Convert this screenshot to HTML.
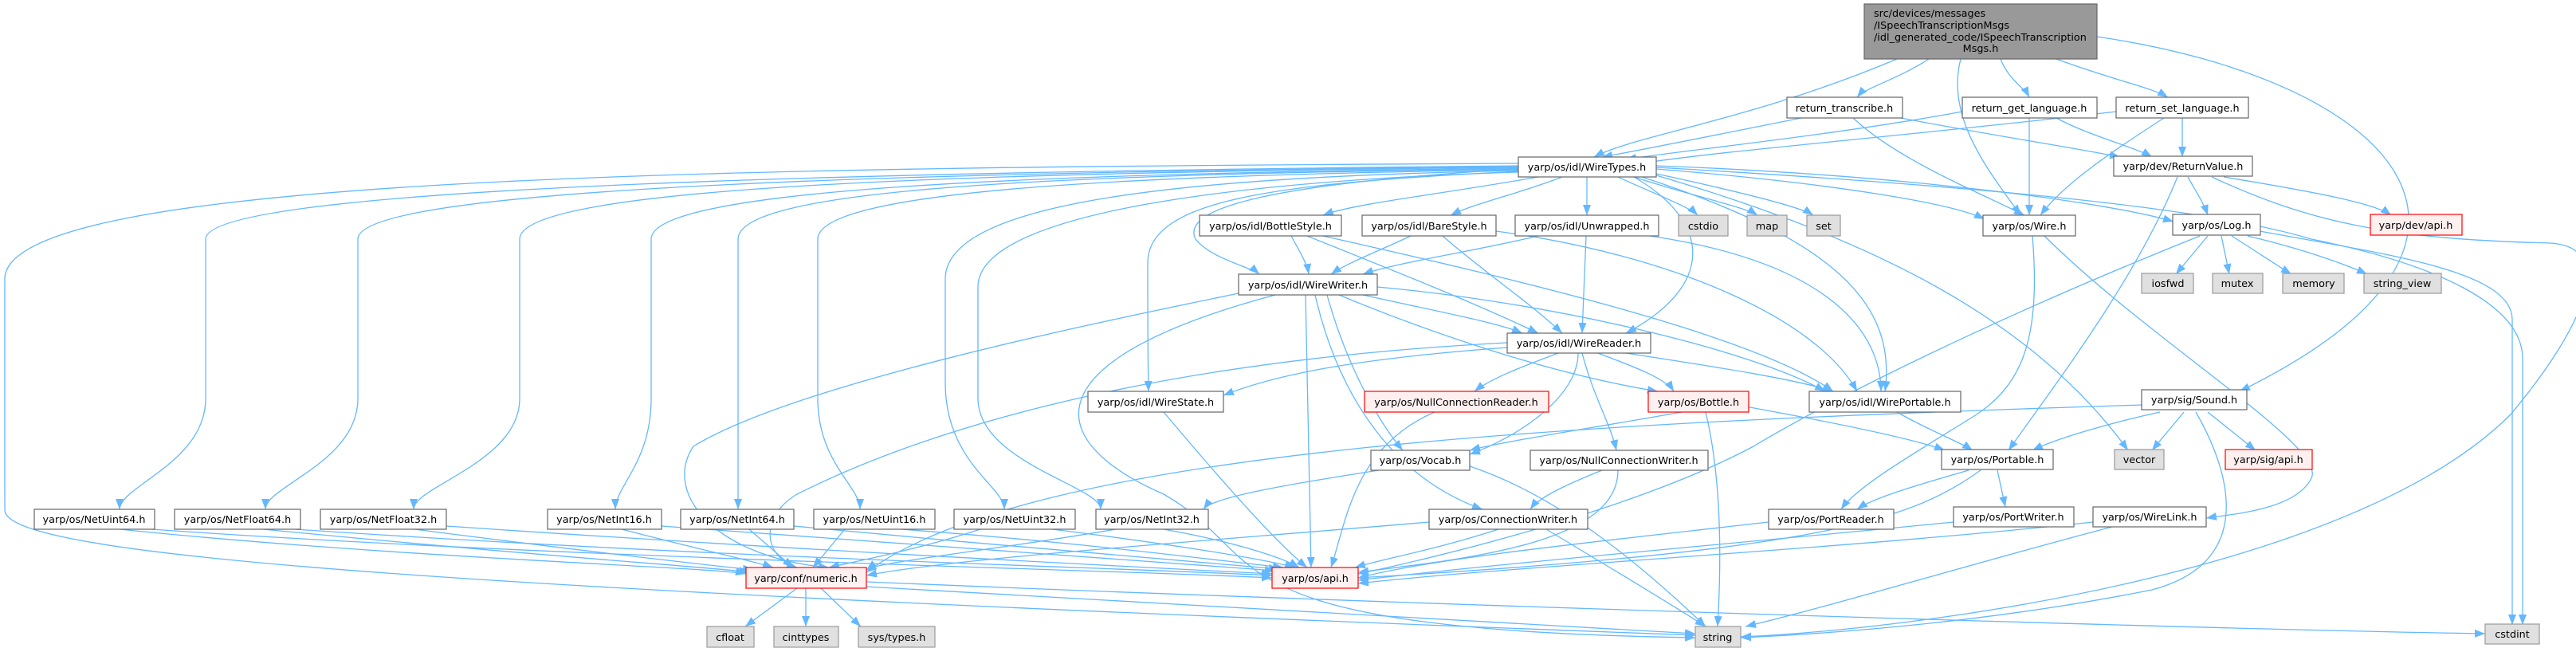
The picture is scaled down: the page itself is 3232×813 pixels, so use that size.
<!DOCTYPE html>
<html><head><meta charset="utf-8"><style>
html,body{margin:0;padding:0;background:#fff;width:3232px;height:813px;overflow:hidden}
svg text{font-family:"DejaVu Sans","Liberation Sans",sans-serif;font-size:12.8px;fill:#000}
.e{fill:none;stroke:#63b8ff;stroke-width:1.3;marker-end:url(#a)}
.n{fill:#fff;stroke:#666;stroke-width:1.2}
.r{fill:#fff0f0;stroke:#f00;stroke-width:1.2}
.g{fill:#e0e0e0;stroke:#999;stroke-width:1.2}
</style></head><body>
<svg width="3232" height="813" viewBox="0 0 3232 813" xmlns="http://www.w3.org/2000/svg">
<defs><marker id="a" markerWidth="14" markerHeight="11" refX="13" refY="5" orient="auto" markerUnits="userSpaceOnUse"><path d="M0,0 L13,5 L0,10 z" fill="#63b8ff"/></marker></defs>
<g>
<path class="e" d="M2380 74 C2200 150,2050 170,2000 197"/>
<path class="e" d="M2420 74 C2380 100,2340 110,2330 122"/>
<path class="e" d="M2510 74 C2520 100,2540 110,2546 122"/>
<path class="e" d="M2580 74 C2650 100,2700 110,2720 122"/>
<path class="e" d="M2460 74 C2440 150,2500 220,2535 270"/>
<path class="e" d="M2631 46 C3000 100,3200 300,2810 491"/>
<path class="e" d="M2260 148 C2150 170,2050 190,2010 197"/>
<path class="e" d="M2385 148 C2500 170,2600 185,2660 197"/>
<path class="e" d="M2325 148 C2380 200,2480 240,2540 270"/>
<path class="e" d="M2462 140 C2300 170,2100 190,2040 200"/>
<path class="e" d="M2580 148 C2620 170,2680 185,2700 197"/>
<path class="e" d="M2546 148 L2546 270"/>
<path class="e" d="M2655 140 C2400 170,2150 190,2060 205"/>
<path class="e" d="M2738 148 L2738 197"/>
<path class="e" d="M2715 148 C2650 190,2590 230,2560 270"/>
<path class="e" d="M1905 208 C1200 215,258 230,258 300 L258 500 C258 580,150 610,150 639"/>
<path class="e" d="M1905 209 C1200 216,449 232,449 300 L449 500 C449 580,333 610,333 639"/>
<path class="e" d="M1905 210 C1200 217,652 234,652 300 L652 500 C652 580,519 610,519 639"/>
<path class="e" d="M1905 211 C1300 218,817 236,817 300 L817 500 C817 580,772 610,772 639"/>
<path class="e" d="M1905 212 C1300 219,926 238,926 300 L926 500 C926 580,926 610,926 639"/>
<path class="e" d="M1905 213 C1400 220,1026 240,1026 300 L1026 500 C1026 580,1079 610,1079 639"/>
<path class="e" d="M1905 214 C1500 222,1186 250,1186 350 L1186 480 C1186 580,1260 610,1260 639"/>
<path class="e" d="M1905 216 C1600 225,1227 260,1227 360 L1227 500 C1227 580,1381 610,1381 639"/>
<path class="e" d="M1905 205 C900 210,6 220,6 350 L6 640 C6 700,600 740,2127 797"/>
<path class="e" d="M1930 222 C1800 245,1700 255,1660 270"/>
<path class="e" d="M1960 222 C1900 245,1850 255,1820 270"/>
<path class="e" d="M1991 222 L1991 270"/>
<path class="e" d="M2030 222 C2080 245,2120 260,2130 270"/>
<path class="e" d="M2050 222 C2120 245,2190 260,2205 270"/>
<path class="e" d="M2078 218 C2180 240,2260 260,2275 270"/>
<path class="e" d="M2078 212 C2300 230,2450 255,2490 275"/>
<path class="e" d="M2078 208 C2400 220,2650 255,2727 278"/>
<path class="e" d="M1905 212 C1600 230,1480 260,1500 300 C1520 325,1570 335,1580 344"/>
<path class="e" d="M2050 222 C2150 280,2150 360,2040 418"/>
<path class="e" d="M1905 215 C1600 230,1440 250,1440 330 C1440 400,1440 450,1441 491"/>
<path class="e" d="M2060 222 C2300 300,2380 380,2365 491"/>
<path class="e" d="M2078 220 C2350 300,2550 400,2670 565"/>
<path class="e" d="M2078 210 C2600 240,2800 270,2900 300 C3050 330,3165 380,3165 450 L3165 784"/>
<path class="e" d="M2790 222 C2900 240,2980 255,3000 270"/>
<path class="e" d="M2745 222 C2755 240,2765 255,2770 270"/>
<path class="e" d="M2732 222 C2680 350,2580 480,2520 565"/>
<path class="e" d="M2775 222 C2900 280,3000 300,3200 305 C3280 310,3250 400,3150 520 C2950 720,2400 790,2184 799"/>
<path class="e" d="M1620 296 C1630 315,1640 330,1642 344"/>
<path class="e" d="M1640 296 C1750 340,1850 380,1930 418"/>
<path class="e" d="M1660 296 C1900 350,2200 420,2300 491"/>
<path class="e" d="M1770 296 C1730 315,1690 330,1670 344"/>
<path class="e" d="M1810 296 C1860 340,1920 380,1960 418"/>
<path class="e" d="M1877 290 C2100 320,2280 400,2330 491"/>
<path class="e" d="M1930 296 C1850 315,1750 330,1710 344"/>
<path class="e" d="M1990 296 L1985 418"/>
<path class="e" d="M2070 296 C2300 330,2360 420,2360 491"/>
<path class="e" d="M2550 296 C2560 420,2540 480,2480 520 C2400 570,2330 610,2310 639"/>
<path class="e" d="M2565 296 C2700 430,2920 560,2900 600 C2880 640,2800 645,2768 650"/>
<path class="e" d="M2770 296 L2730 344"/>
<path class="e" d="M2787 296 L2797 344"/>
<path class="e" d="M2800 296 C2830 315,2860 335,2875 344"/>
<path class="e" d="M2820 296 C2900 315,2950 335,2970 344"/>
<path class="e" d="M2835 290 C3000 320,3150 340,3152 400 L3152 784"/>
<path class="e" d="M2760 296 C2500 400,2300 500,2200 560 C2050 640,1800 700,1704 720"/>
<path class="e" d="M1710 370 C1800 390,1880 405,1910 418"/>
<path class="e" d="M1728 360 C1950 380,2200 440,2290 491"/>
<path class="e" d="M1680 370 C1800 420,1950 470,2080 491"/>
<path class="e" d="M1665 370 C1690 460,1730 530,1760 565"/>
<path class="e" d="M1650 370 C1680 500,1750 600,1860 639"/>
<path class="e" d="M1638 370 L1645 712"/>
<path class="e" d="M1554 368 C1400 400,1000 480,870 560 C830 620,900 700,1040 712"/>
<path class="e" d="M1600 370 C1300 450,1300 550,1460 620 C1600 700,1500 790,2127 800"/>
<path class="e" d="M1891 436 C1700 450,1600 470,1535 496"/>
<path class="e" d="M1955 443 C1910 460,1870 475,1850 491"/>
<path class="e" d="M2005 443 C2050 460,2090 475,2100 491"/>
<path class="e" d="M1980 443 C1980 500,1900 550,1844 570"/>
<path class="e" d="M1985 443 C2000 500,2020 530,2028 565"/>
<path class="e" d="M2040 443 C2150 460,2250 475,2300 491"/>
<path class="e" d="M1891 430 C1500 450,1200 520,1000 620 C950 650,960 700,1000 712"/>
<path class="e" d="M1460 517 C1530 600,1600 680,1640 712"/>
<path class="e" d="M1800 517 C1700 560,1690 650,1670 712"/>
<path class="e" d="M2110 517 C1980 540,1880 555,1844 565"/>
<path class="e" d="M2190 510 C2300 530,2400 550,2440 565"/>
<path class="e" d="M2140 517 C2160 600,2160 700,2155 786"/>
<path class="e" d="M2380 517 C2420 540,2460 555,2475 565"/>
<path class="e" d="M2710 517 C2650 530,2580 550,2550 565"/>
<path class="e" d="M2740 517 L2700 565"/>
<path class="e" d="M2770 517 L2830 565"/>
<path class="e" d="M2755 517 C2780 560,2850 700,2700 740 C2500 780,2300 795,2184 800"/>
<path class="e" d="M2688 508 C2000 530,1300 560,1087 718"/>
<path class="e" d="M1730 590 C1600 610,1520 625,1510 639"/>
<path class="e" d="M1844 585 C1950 620,2050 700,2140 786"/>
<path class="e" d="M2010 590 C1960 610,1930 625,1920 639"/>
<path class="e" d="M2030 590 C2030 680,1850 700,1704 718"/>
<path class="e" d="M2470 590 C2400 610,2350 625,2330 639"/>
<path class="e" d="M2506 590 L2516 636"/>
<path class="e" d="M2485 590 C2400 650,2300 690,1704 725"/>
<path class="e" d="M1880 664 C1800 690,1740 700,1700 712"/>
<path class="e" d="M1793 655 C1500 680,1200 700,1087 722"/>
<path class="e" d="M1940 664 C2000 700,2100 760,2140 786"/>
<path class="e" d="M2219 655 C2000 680,1800 700,1704 725"/>
<path class="e" d="M2451 655 C2200 680,1900 705,1704 728"/>
<path class="e" d="M2626 655 C2300 690,1900 710,1704 732"/>
<path class="e" d="M2650 661 C2500 700,2300 760,2190 786"/>
<path class="e" d="M150 664 C500 700,900 712,936 720"/>
<path class="e" d="M190 664 C700 700,1400 715,1596 725"/>
<path class="e" d="M330 664 C700 700,900 712,940 718"/>
<path class="e" d="M370 664 C900 700,1400 712,1596 722"/>
<path class="e" d="M520 664 C800 700,900 710,945 715"/>
<path class="e" d="M560 660 C1000 690,1400 710,1596 720"/>
<path class="e" d="M780 664 C880 690,950 705,970 712"/>
<path class="e" d="M830 660 C1100 680,1400 700,1600 716"/>
<path class="e" d="M940 664 L995 712"/>
<path class="e" d="M996 660 C1200 680,1450 700,1605 714"/>
<path class="e" d="M1060 664 L1020 712"/>
<path class="e" d="M1130 664 C1350 680,1500 700,1610 712"/>
<path class="e" d="M1230 664 C1150 690,1070 705,1040 712"/>
<path class="e" d="M1320 664 C1450 680,1580 700,1625 712"/>
<path class="e" d="M1400 664 C1250 690,1100 705,1087 715"/>
<path class="e" d="M1460 664 C1550 680,1610 700,1630 712"/>
<path class="e" d="M1000 738 L935 786"/>
<path class="e" d="M1011 738 L1011 786"/>
<path class="e" d="M1030 738 L1080 786"/>
<path class="e" d="M1087 730 C1800 760,2800 790,3118 795"/>
<path class="e" d="M1087 736 C1500 760,1900 780,2127 795"/>
</g>
<g text-anchor="middle">
<rect x="2339" y="5" width="292" height="69" fill="#999" stroke="#666" stroke-width="1.2"/>
<text x="2351" y="21" text-anchor="start">src/devices/messages</text>
<text x="2351" y="36" text-anchor="start">/ISpeechTranscriptionMsgs</text>
<text x="2351" y="51" text-anchor="start">/idl_generated_code/ISpeechTranscription</text>
<text x="2485" y="65">Msgs.h</text>

<rect class="n" x="2242" y="122" width="145" height="26"/><text x="2314" y="140">return_transcribe.h</text>
<rect class="n" x="2462" y="122" width="169" height="26"/><text x="2546" y="140">return_get_language.h</text>
<rect class="n" x="2655" y="122" width="166" height="26"/><text x="2738" y="140">return_set_language.h</text>

<rect class="n" x="1905" y="197" width="173" height="25"/><text x="1991" y="214">yarp/os/idl/WireTypes.h</text>
<rect class="n" x="2652" y="196" width="174" height="25"/><text x="2739" y="213">yarp/dev/ReturnValue.h</text>

<rect class="n" x="1505" y="270" width="178" height="26"/><text x="1594" y="288">yarp/os/idl/BottleStyle.h</text>
<rect class="n" x="1709" y="270" width="168" height="26"/><text x="1793" y="288">yarp/os/idl/BareStyle.h</text>
<rect class="n" x="1901" y="270" width="180" height="26"/><text x="1991" y="288">yarp/os/idl/Unwrapped.h</text>
<rect class="g" x="2106" y="270" width="62" height="26"/><text x="2137" y="288">cstdio</text>
<rect class="g" x="2192" y="270" width="50" height="26"/><text x="2217" y="288">map</text>
<rect class="g" x="2267" y="270" width="42" height="26"/><text x="2288" y="288">set</text>
<rect class="n" x="2488" y="270" width="116" height="26"/><text x="2546" y="288">yarp/os/Wire.h</text>
<rect class="n" x="2726" y="269" width="110" height="26"/><text x="2781" y="287">yarp/os/Log.h</text>
<rect class="r" x="2974" y="269" width="115" height="26"/><text x="3031" y="287">yarp/dev/api.h</text>

<rect class="n" x="1554" y="344" width="174" height="26"/><text x="1641" y="362">yarp/os/idl/WireWriter.h</text>
<rect class="g" x="2687" y="343" width="65" height="25"/><text x="2720" y="360">iosfwd</text>
<rect class="g" x="2776" y="343" width="63" height="25"/><text x="2807" y="360">mutex</text>
<rect class="g" x="2864" y="343" width="77" height="25"/><text x="2903" y="360">memory</text>
<rect class="g" x="2966" y="343" width="97" height="25"/><text x="3014" y="360">string_view</text>

<rect class="n" x="1891" y="418" width="180" height="25"/><text x="1981" y="435">yarp/os/idl/WireReader.h</text>

<rect class="n" x="1365" y="491" width="170" height="26"/><text x="1450" y="509">yarp/os/idl/WireState.h</text>
<rect class="r" x="1712" y="491" width="231" height="26"/><text x="1827" y="509">yarp/os/NullConnectionReader.h</text>
<rect class="r" x="2068" y="491" width="126" height="26"/><text x="2131" y="509">yarp/os/Bottle.h</text>
<rect class="n" x="2270" y="491" width="190" height="26"/><text x="2365" y="509">yarp/os/idl/WirePortable.h</text>
<rect class="n" x="2687" y="489" width="132" height="25"/><text x="2753" y="506">yarp/sig/Sound.h</text>

<rect class="n" x="1720" y="565" width="124" height="25"/><text x="1782" y="582">yarp/os/Vocab.h</text>
<rect class="n" x="1920" y="565" width="223" height="25"/><text x="2031" y="582">yarp/os/NullConnectionWriter.h</text>
<rect class="n" x="2436" y="564" width="140" height="25"/><text x="2506" y="581">yarp/os/Portable.h</text>
<rect class="g" x="2653" y="564" width="62" height="25"/><text x="2684" y="581">vector</text>
<rect class="r" x="2792" y="564" width="109" height="25"/><text x="2846" y="581">yarp/sig/api.h</text>

<rect class="n" x="43" y="639" width="151" height="25"/><text x="118" y="656">yarp/os/NetUint64.h</text>
<rect class="n" x="219" y="639" width="158" height="25"/><text x="298" y="656">yarp/os/NetFloat64.h</text>
<rect class="n" x="402" y="639" width="158" height="25"/><text x="481" y="656">yarp/os/NetFloat32.h</text>
<rect class="n" x="687" y="639" width="143" height="25"/><text x="758" y="656">yarp/os/NetInt16.h</text>
<rect class="n" x="854" y="639" width="142" height="25"/><text x="925" y="656">yarp/os/NetInt64.h</text>
<rect class="n" x="1021" y="639" width="152" height="25"/><text x="1097" y="656">yarp/os/NetUint16.h</text>
<rect class="n" x="1197" y="639" width="152" height="25"/><text x="1273" y="656">yarp/os/NetUint32.h</text>
<rect class="n" x="1375" y="639" width="141" height="25"/><text x="1445" y="656">yarp/os/NetInt32.h</text>
<rect class="n" x="1793" y="639" width="199" height="25"/><text x="1892" y="656">yarp/os/ConnectionWriter.h</text>
<rect class="n" x="2219" y="639" width="157" height="25"/><text x="2297" y="656">yarp/os/PortReader.h</text>
<rect class="n" x="2451" y="636" width="151" height="25"/><text x="2526" y="653">yarp/os/PortWriter.h</text>
<rect class="n" x="2626" y="636" width="142" height="25"/><text x="2697" y="653">yarp/os/WireLink.h</text>

<rect class="r" x="936" y="712" width="151" height="26"/><text x="1011" y="730">yarp/conf/numeric.h</text>
<rect class="r" x="1596" y="712" width="108" height="26"/><text x="1650" y="730">yarp/os/api.h</text>

<rect class="g" x="887" y="786" width="59" height="26"/><text x="916" y="804">cfloat</text>
<rect class="g" x="971" y="786" width="81" height="26"/><text x="1011" y="804">cinttypes</text>
<rect class="g" x="1077" y="786" width="96" height="26"/><text x="1125" y="804">sys/types.h</text>
<rect class="g" x="2127" y="786" width="57" height="26"/><text x="2155" y="804">string</text>
<rect class="g" x="3118" y="783" width="68" height="25"/><text x="3152" y="800">cstdint</text>
</g>
</svg>
</body></html>
